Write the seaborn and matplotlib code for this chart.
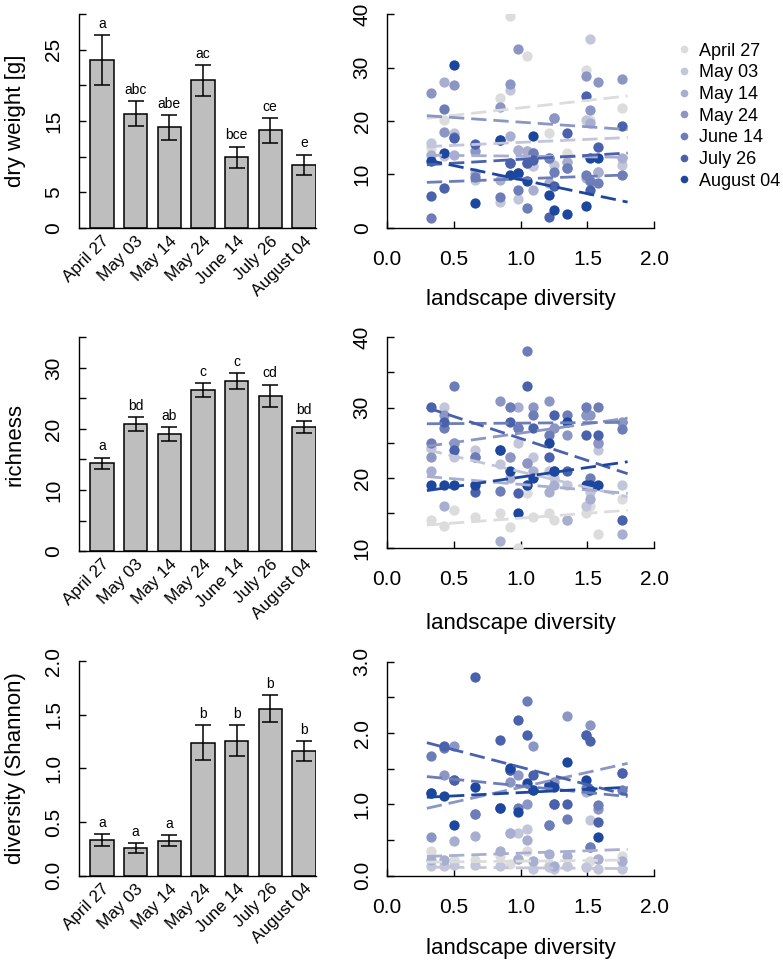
import numpy as np
import pandas as pd
import matplotlib
matplotlib.use("Agg")
import matplotlib.pyplot as plt
from matplotlib.lines import Line2D
from matplotlib.transforms import ScaledTranslation
import seaborn as sns

# ── Data ──────────────────────────────────────────────────────
DATES   = ["April 27", "May 03", "May 14", "May 24", "June 14", "July 26", "August 04"]
PALETTE = ["#dcdcdc", "#c3c6da", "#a8aecf", "#8c96c4", "#6d7db8", "#4a61ab", "#1d479e"]

# landscape diversity of the 16 sites
SITES = [0.33, 0.43, 0.50, 0.66, 0.85, 0.92, 0.98, 1.05,
         1.09, 1.21, 1.25, 1.35, 1.49, 1.52, 1.58, 1.76]

DW_MEAN    = [23.5, 16.0, 14.1, 20.7, 9.9, 13.7, 8.9]
DW_SE      = [3.5, 1.75, 1.7, 2.15, 1.5, 1.75, 1.4]
DW_LETTERS = ["a", "abc", "abe", "ac", "bce", "ce", "e"]

RI_MEAN    = [14.35, 20.8, 19.15, 26.4, 27.9, 25.4, 20.3]
RI_SE      = [0.95, 1.15, 1.15, 1.1, 1.3, 1.85, 1.0]
RI_LETTERS = ["a", "bd", "ab", "c", "c", "cd", "bd"]

SH_MEAN    = [0.335, 0.255, 0.326, 1.24, 1.258, 1.556, 1.162]
SH_SE      = [0.055, 0.048, 0.053, 0.16, 0.147, 0.125, 0.09]
SH_LETTERS = ["a", "a", "a", "b", "b", "b", "b"]

# per-site values, one row per date
DW_PTS = [
    [15.0, 20.2, 17.5, 14.3, 24.3, 39.6, 14.6, 32.1, 11.5, 17.7, 20.5, 14.0, 29.6, 20.2, 10.5, 22.5],
    [15.8, 13.5, 17.7, 9.0, 4.9, 25.8, 5.3, 14.3, 11.5, 8.3, 11.8, 12.4, 20.2, 35.3, 10.5, 11.8],
    [13.7, 27.4, 13.7, 10.2, 9.0, 17.1, 14.6, 14.3, 7.1, 8.3, 20.5, 12.4, 9.3, 19.6, 10.5, 13.0],
    [25.3, 17.9, 26.7, 14.3, 22.6, 27.0, 33.5, 12.1, 14.0, 13.0, 20.5, 11.1, 28.5, 22.1, 27.4, 27.8],
    [1.8, 22.2, 17.0, 9.5, 5.8, 12.1, 7.1, 3.7, 14.0, 13.0, 10.5, 11.1, 9.9, 8.7, 8.3, 9.8],
    [6.0, 7.4, 16.8, 15.7, 16.5, 12.1, 10.2, 12.1, 12.7, 2.1, 7.8, 17.8, 24.6, 7.1, 15.2, 19.1],
    [12.5, 14.0, 30.5, 4.7, 16.5, 9.9, 10.2, 8.7, 17.1, 6.2, 3.3, 2.5, 4.0, 13.0, 13.0, np.nan],
]
RI_PTS = [
    [14.0, 13.1, 15.5, 14.5, 15.0, 13.0, 10.0, 17.9, 14.5, 15.0, 14.0, 14.0, 15.0, 16.0, 12.0, 17.0],
    [24.2, 30.1, 23.0, 24.0, 22.0, 23.0, 25.0, 22.1, 23.0, 21.0, 20.0, 19.0, 16.0, 18.0, 24.0, 19.0],
    [21.0, 16.0, 25.0, 19.0, 11.1, 20.0, 30.1, 19.0, 21.0, 18.0, 19.0, 14.0, 29.0, 17.0, 25.0, 12.0],
    [23.0, 29.0, 25.0, 23.0, 31.0, 23.0, 27.1, 22.1, 30.1, 31.0, 27.1, 26.1, 29.0, 29.0, 25.0, 28.0],
    [25.0, 27.1, 33.0, 23.0, 18.1, 30.1, 27.1, 38.0, 29.0, 26.1, 21.0, 29.0, 30.1, 20.0, 30.1, 27.0],
    [30.1, 28.0, 24.0, 18.0, 24.0, 28.0, 17.9, 33.0, 27.1, 23.0, 29.0, 21.0, 26.1, 19.0, 26.1, 14.0],
    [19.0, 19.0, 19.0, 19.0, 24.0, 21.0, 15.0, 19.0, 20.0, 25.0, 21.0, 28.0, 19.0, 19.0, 19.0, np.nan],
]
SH_PTS = [
    [0.35, 0.22, 0.22, 0.22, 0.27, 0.17, 0.23, 0.35, 0.20, 0.15, 0.14, 0.13, 0.12, 0.20, 0.24, 0.27],
    [0.13, 0.13, 0.15, 0.15, 0.13, 0.60, 0.60, 0.65, 0.10, 0.12, 0.10, 0.13, 0.12, 0.78, 0.10, 0.10],
    [0.22, 0.22, 0.49, 0.55, 0.35, 0.60, 0.23, 0.50, 0.20, 0.31, 0.14, 0.28, 1.17, 0.40, 0.24, 0.20],
    [0.54, 1.41, 1.82, 0.87, 0.95, 1.32, 1.41, 1.00, 1.82, 0.71, 1.32, 2.24, 1.97, 2.11, 0.93, 1.44],
    [1.68, 1.79, 1.34, 0.87, 0.95, 1.48, 0.95, 2.45, 1.20, 0.71, 1.01, 0.79, 1.23, 0.40, 0.99, 1.20],
    [1.16, 1.82, 1.34, 2.78, 1.90, 1.48, 2.19, 1.97, 1.41, 1.27, 1.01, 1.01, 1.97, 1.89, 0.76, 1.44],
    [1.16, 1.12, 0.71, 1.25, 0.95, 1.51, 0.90, 1.30, 1.20, 1.27, 1.25, 1.60, 1.34, 1.20, 0.54, np.nan],
]

# fitted lines: value at x = 0.3 and at x = 1.8, per date
FIT_X        = [0.3, 1.8]
DW_FIT_START = [20.5, 15.2, 13.6, 21.0, 8.5, 11.8, 12.7]
DW_FIT_END   = [24.7, 16.9, 13.2, 18.4, 9.9, 14.0, 4.8]
RI_FIT_START = [13.3, 24.0, 20.2, 24.5, 27.7, 30.0, 18.2]
RI_FIT_END   = [15.4, 17.3, 17.8, 28.5, 27.9, 20.6, 22.3]
SH_FIT_START = [0.19, 0.12, 0.27, 0.945, 1.39, 1.865, 1.10]
SH_FIT_END   = [0.22, 0.10, 0.37, 1.575, 1.11, 1.13, 1.24]

# ── Style ─────────────────────────────────────────────────────
sns.set_theme(style="ticks")
plt.rcParams["font.family"] = ["Liberation Sans", "DejaVu Sans"]
plt.rcParams["axes.linewidth"] = 1.0
plt.rcParams["axes.edgecolor"] = "black"
for key in ["text.color", "axes.labelcolor", "xtick.color", "ytick.color"]:
    plt.rcParams[key] = "black"


def bar_panel(ax, means, ses, letters, ylim, yticks, ylabels, ylabel):
    df = pd.DataFrame({"date": DATES, "value": means})
    sns.barplot(data=df, x="date", y="value", order=DATES, color="#bebebe",
                saturation=1, width=0.69, edgecolor="black", linewidth=1.1,
                errorbar=None, ax=ax)
    xs = np.arange(len(DATES))
    ax.errorbar(xs, means, yerr=ses, fmt="none", ecolor="black",
                elinewidth=1.1, capsize=5.5, capthick=1.1, zorder=5)
    for i, (m, s, t) in enumerate(zip(means, ses, letters)):
        ax.annotate(t, (i, m + s), xytext=(0, 5.2), textcoords="offset points",
                    ha="center", va="baseline", fontsize=10)
    ax.set_xlim(-0.68, 6.36)
    ax.set_ylim(*ylim)
    ax.set_yticks(yticks)
    ax.set_yticklabels(ylabels, rotation=90, va="center")
    ax.set_xticks(xs)
    ax.set_xticklabels(DATES, rotation=45, ha="right", rotation_mode="anchor",
                       fontsize=12.3)
    shift = ScaledTranslation(-2.5 / 100, -3.5 / 100, fig.dpi_scale_trans)
    for lab in ax.get_xticklabels():
        lab.set_transform(lab.get_transform() + shift)
    ax.tick_params(axis="x", length=0, pad=4)
    ax.tick_params(axis="y", direction="in", length=4.8, width=1.0,
                   labelsize=15, pad=11.5)
    sns.despine(ax=ax)
    ax.set_xlabel("")
    ax.set_ylabel(ylabel, fontsize=16)
    ax.yaxis.set_label_coords(-0.27, 0.5)
    ax.yaxis.label.set_va("center")


def scatter_panel(ax, pts, fit_start, fit_end, ylim, yticks, ylabels, xlab_y):
    for i, date in enumerate(DATES):
        pdf = pd.DataFrame({"x": SITES, "y": pts[i]}).dropna()
        sns.scatterplot(data=pdf, x="x", y="y", color=PALETTE[i], s=55,
                        linewidth=0, ax=ax, zorder=3)
        ldf = pd.DataFrame({"x": FIT_X, "y": [fit_start[i], fit_end[i]]})
        sns.lineplot(data=ldf, x="x", y="y", color=PALETTE[i], lw=2.0,
                     ax=ax, zorder=4, dashes=(5.5, 2.5))
    ax.set_xlim(0, 2.0)
    ax.set_ylim(*ylim)
    ax.set_xticks([0, 0.5, 1.0, 1.5, 2.0])
    ax.set_xticklabels(["0.0", "0.5", "1.0", "1.5", "2.0"])
    ax.set_yticks(yticks)
    ax.set_yticklabels(ylabels, rotation=90, va="center")
    ax.tick_params(axis="both", direction="in", length=4.8, width=1.0,
                   labelsize=15)
    ax.tick_params(axis="y", pad=10.8)
    ax.tick_params(axis="x", pad=16)
    sns.despine(ax=ax)
    ax.set_xlabel("landscape diversity", fontsize=16)
    ax.xaxis.set_label_coords(0.5, xlab_y)
    ax.xaxis.label.set_va("center")
    ax.set_ylabel("")


fig = plt.figure(figsize=(7.83, 9.6), dpi=100)

ax1 = fig.add_axes([0.1009, 0.7625, 0.3027, 0.2229])
ax2 = fig.add_axes([0.4939, 0.7628, 0.3418, 0.2223])
ax3 = fig.add_axes([0.1009, 0.4260, 0.3027, 0.2226])
ax4 = fig.add_axes([0.4939, 0.4289, 0.3418, 0.2198])
ax5 = fig.add_axes([0.1009, 0.0878, 0.3027, 0.2236])
ax6 = fig.add_axes([0.4939, 0.0878, 0.3418, 0.2229])

bar_panel(ax1, DW_MEAN, DW_SE, DW_LETTERS, (0, 30), np.arange(0, 31, 5),
          ["0", "5", "", "15", "", "25", ""], "dry weight [g]")
bar_panel(ax3, RI_MEAN, RI_SE, RI_LETTERS, (0, 35), np.arange(0, 36, 5),
          ["0", "", "10", "", "20", "", "30", ""], "richness")
bar_panel(ax5, SH_MEAN, SH_SE, SH_LETTERS, (0, 2.0), np.arange(0, 2.01, 0.5),
          ["0.0", "0.5", "1.0", "1.5", "2.0"], "diversity (Shannon)")

scatter_panel(ax2, DW_PTS, DW_FIT_START, DW_FIT_END, (0, 40),
              np.arange(0, 41, 10), ["0", "10", "20", "30", "40"], -0.335)
scatter_panel(ax4, RI_PTS, RI_FIT_START, RI_FIT_END, (10, 40),
              np.arange(10, 41, 5), ["10", "", "20", "", "30", "", "40"], -0.355)
scatter_panel(ax6, SH_PTS, SH_FIT_START, SH_FIT_END, (0, 3.0),
              np.arange(0, 3.01, 0.5), ["0.0", "", "1.0", "", "2.0", "", "3.0"], -0.34)

handles = [Line2D([0], [0], marker="o", linestyle="", markersize=5.5,
                  markerfacecolor=c, markeredgewidth=0) for c in PALETTE]
fig.legend(handles, DATES, loc="upper left", bbox_to_anchor=(0.8646, 0.9557),
           frameon=False, fontsize=13, handlelength=0.8, handletextpad=0.4,
           borderpad=0, borderaxespad=0, labelspacing=0.26)

fig.savefig("out.png", dpi=100)
